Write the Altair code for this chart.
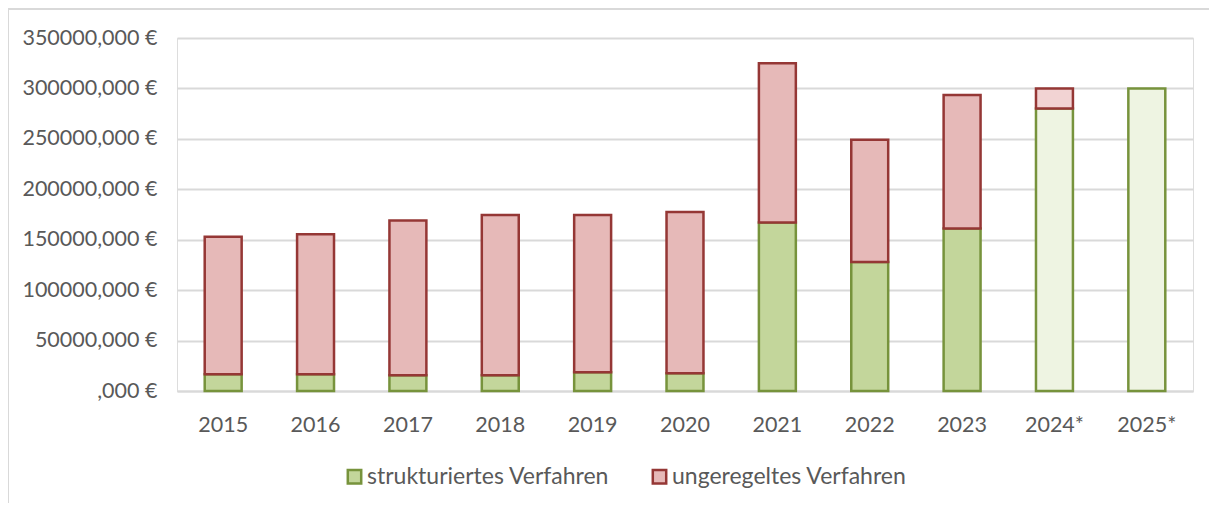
import altair as alt
import pandas as pd

years = ["2015", "2016", "2017", "2018", "2019", "2020", "2021", "2022", "2023", "2024*", "2025*"]
strukturiert = [16500, 16500, 15500, 15500, 18500, 17500, 167000, 128000, 161000, 280000, 300000]
ungeregelt = [136500, 139000, 153500, 159000, 156000, 160000, 158000, 121000, 132500, 20000, 0]
projected = [False] * 9 + [True, True]
categories = ["strukturiertes Verfahren", "ungeregeltes Verfahren"]
y_ticks = [0, 50000, 100000, 150000, 200000, 250000, 300000, 350000]

rows = []
for i, y in enumerate(years):
    for k, (cat, vals) in enumerate(zip(categories, [strukturiert, ungeregelt])):
        if vals[i] > 0:
            rows.append({"Jahr": y, "Kategorie": cat, "Wert": vals[i], "ord": k, "prog": projected[i]})
df = pd.DataFrame(rows)

FONT = "Lato"
FS = 21.5
TXT = "#595959"
GRID = "#d9d9d9"

fill_scale = alt.Scale(domain=categories, range=["#c3d69b", "#e6b9b8"])
stroke_scale = alt.Scale(domain=categories, range=["#77933c", "#953735"])

x_enc = alt.X("Jahr:N", sort=years, title=None,
              scale=alt.Scale(paddingInner=0.6, paddingOuter=0.3),
              axis=alt.Axis(labelAngle=0, labelFont=FONT, labelFontSize=FS, labelColor=TXT,
                            labelPadding=23, ticks=False, domainColor=GRID, domainWidth=2, grid=False))
y_enc = alt.Y("Wert:Q", stack="zero", title=None,
              scale=alt.Scale(domain=[0, 350000], nice=False),
              axis=alt.Axis(values=y_ticks, labelFont=FONT, labelFontSize=FS, labelColor=TXT,
                            labelPadding=20, ticks=False, domain=False, gridColor=GRID, gridWidth=2,
                            labelExpr="datum.value == 0 ? ',000 €' : format(datum.value, 'd') + ',000 €'"))

legend = alt.Legend(title=None, orient="none", legendX=166, legendY=427, direction="horizontal",
                    symbolType="square", symbolSize=180, symbolStrokeWidth=2.5, labelLimit=0,
                    labelOffset=1, labelFont=FONT, labelFontSize=23, labelColor=TXT,
                    columnPadding=37, symbolOffset=0)

actual = alt.Chart(df).transform_filter("!datum.prog").mark_bar(strokeWidth=2.5).encode(
    x=x_enc, y=y_enc,
    fill=alt.Fill("Kategorie:N", scale=fill_scale, legend=legend),
    stroke=alt.Stroke("Kategorie:N", scale=stroke_scale, legend=legend),
    order=alt.Order("ord:Q"),
)

proj = alt.Chart(df).transform_filter("datum.prog").mark_bar(strokeWidth=2.5).encode(
    x=x_enc, y=y_enc,
    fill=alt.condition("datum.Kategorie === 'strukturiertes Verfahren'", alt.value("#eef4e2"), alt.value("#f2d3d3")),
    stroke=alt.Stroke("Kategorie:N", scale=stroke_scale, legend=legend),
    order=alt.Order("ord:Q"),
)

frame_left = alt.Chart(alt.Data(values=[{}])).mark_rule(stroke=GRID, strokeWidth=2).encode(
    x=alt.value(-169), y=alt.value(-30), y2=alt.value(480)
)
frame_top = alt.Chart(alt.Data(values=[{}])).mark_rule(stroke=GRID, strokeWidth=2).encode(
    x=alt.value(-170), x2=alt.value(1060), y=alt.value(-29)
)

chart = alt.layer(frame_left, frame_top, actual, proj).properties(
    width=1016, height=353,
    autosize=alt.AutoSizeParams(type="none"),
    padding={"left": 169, "top": 30, "right": 16, "bottom": 112},
).configure_view(strokeWidth=0, stroke="transparent").configure(background="transparent")

chart.save("out.html", embed_options={"renderer": "svg", "actions": False})
